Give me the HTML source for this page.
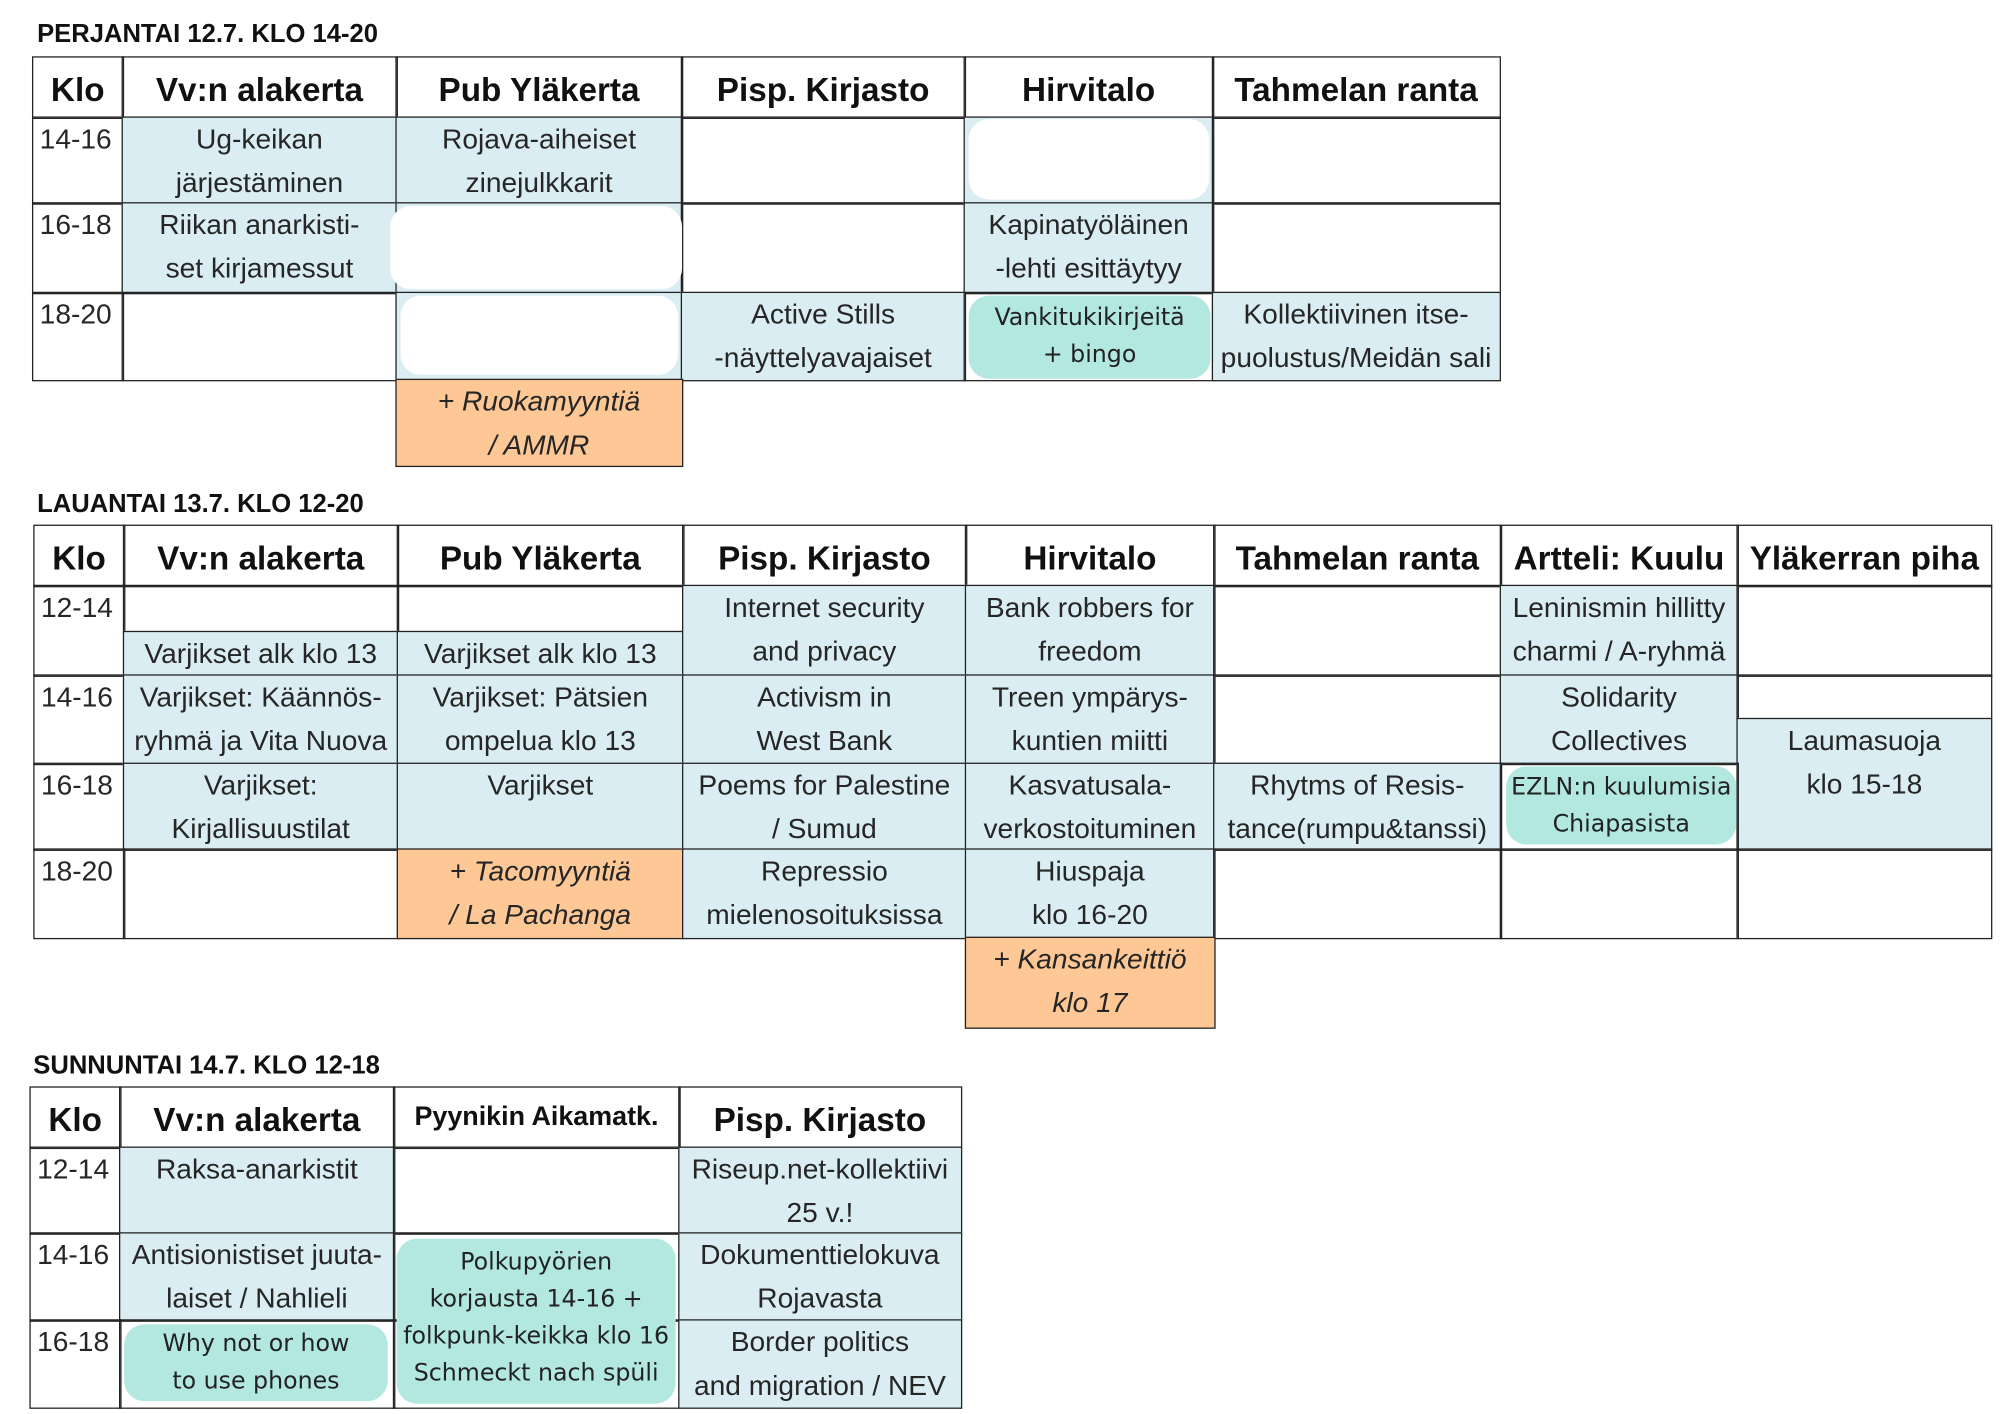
<!DOCTYPE html>
<html><head><meta charset="utf-8">
<style>
html,body{margin:0;padding:0;background:#fff;}
body{width:2000px;height:1414px;overflow:hidden;position:relative;}
#w{position:absolute;left:0;top:0;width:1563px;height:1105px;transform:scale(1.27959);transform-origin:0 0;font-family:"Liberation Sans",Arial,sans-serif;color:#262626;}
.c{position:absolute;box-sizing:border-box;border:1.5px solid #222;text-align:center;font-size:22px;line-height:34px;white-space:nowrap;overflow:visible;}
.b{background:#daedf3;}
.o{background:#fdc896;font-style:italic;}
.h{font-weight:bold;font-size:26px;line-height:50px;color:#111;}
.k{text-align:left;padding-left:5px;}
.t{position:absolute;font-weight:bold;font-size:20px;color:#111;}
.bl{position:absolute;border-radius:16px;text-align:center;white-space:nowrap;}
.wb{background:#fff;}
.tl{background:#b2e8e0;font-family:"DejaVu Sans",sans-serif;font-size:18.5px;color:#222;}
</style></head><body><div id="w">

<!-- FRIDAY -->
<div class="t" style="left:29px;top:16px">PERJANTAI 12.7. KLO 14-20</div>
<div class="c h" style="left:25px;top:44px;width:71.5px;height:48.5px">Klo</div>
<div class="c h" style="left:95px;top:44px;width:215.5px;height:48.5px">Vv:n alakerta</div>
<div class="c h" style="left:309px;top:44px;width:224.5px;height:48.5px">Pub Yläkerta</div>
<div class="c h" style="left:532px;top:44px;width:222.5px;height:48.5px">Pisp. Kirjasto</div>
<div class="c h" style="left:753px;top:44px;width:195.5px;height:48.5px">Hirvitalo</div>
<div class="c h" style="left:947px;top:44px;width:225.5px;height:48.5px">Tahmelan ranta</div>

<div class="c k" style="left:25px;top:91px;width:71.5px;height:68.5px">14-16</div>
<div class="c b" style="left:95px;top:91px;width:215.5px;height:68.5px">Ug-keikan<br>järjestäminen</div>
<div class="c b" style="left:309px;top:91px;width:224.5px;height:68.5px">Rojava-aiheiset<br>zinejulkkarit</div>
<div class="c" style="left:532px;top:91px;width:222.5px;height:68.5px"></div>
<div class="c b" style="left:753px;top:91px;width:195.5px;height:68.5px"></div>
<div class="c" style="left:947px;top:91px;width:225.5px;height:68.5px"></div>

<div class="c k" style="left:25px;top:158px;width:71.5px;height:71.5px">16-18</div>
<div class="c b" style="left:95px;top:158px;width:215.5px;height:71.5px">Riikan anarkisti-<br>set kirjamessut</div>
<div class="c b" style="left:309px;top:158px;width:224.5px;height:71.5px"></div>
<div class="c" style="left:532px;top:158px;width:222.5px;height:71.5px"></div>
<div class="c b" style="left:753px;top:158px;width:195.5px;height:71.5px">Kapinatyöläinen<br>-lehti esittäytyy</div>
<div class="c" style="left:947px;top:158px;width:225.5px;height:71.5px"></div>

<div class="c k" style="left:25px;top:228px;width:71.5px;height:69.5px">18-20</div>
<div class="c" style="left:95px;top:228px;width:215.5px;height:69.5px"></div>
<div class="c b" style="left:309px;top:228px;width:224.5px;height:69.5px"></div>
<div class="c b" style="left:532px;top:228px;width:222.5px;height:69.5px">Active Stills<br>-näyttelyavajaiset</div>
<div class="c" style="left:753px;top:228px;width:195.5px;height:69.5px"></div>
<div class="c b" style="left:947px;top:228px;width:225.5px;height:69.5px">Kollektiivinen itse-<br>puolustus/Meidän sali</div>
<div class="c o" style="left:309px;top:296px;width:224.5px;height:68.5px">+ Ruokamyyntiä<br>/ AMMR</div>

<div class="bl wb" style="left:757px;top:93px;width:188px;height:63px"></div>
<div class="bl wb" style="left:305px;top:161px;width:228px;height:65px"></div>
<div class="bl wb" style="left:313px;top:231px;width:217px;height:62px"></div>
<div class="bl tl" style="left:757px;top:231px;width:189px;height:65px;line-height:29px;padding-top:3px;box-sizing:border-box">Vankitukikirjeitä<br>+ bingo</div>

<!-- SATURDAY -->
<div class="t" style="left:29px;top:383px">LAUANTAI 13.7. KLO 12-20</div>
<div class="c h" style="left:26px;top:410px;width:71.5px;height:48.5px">Klo</div>
<div class="c h" style="left:96px;top:410px;width:215.5px;height:48.5px">Vv:n alakerta</div>
<div class="c h" style="left:310px;top:410px;width:224.5px;height:48.5px">Pub Yläkerta</div>
<div class="c h" style="left:533px;top:410px;width:222.5px;height:48.5px">Pisp. Kirjasto</div>
<div class="c h" style="left:754px;top:410px;width:195.5px;height:48.5px">Hirvitalo</div>
<div class="c h" style="left:948px;top:410px;width:225.5px;height:48.5px">Tahmelan ranta</div>
<div class="c h" style="left:1172px;top:410px;width:186.5px;height:48.5px">Artteli: Kuulu</div>
<div class="c h" style="left:1357px;top:410px;width:200px;height:48.5px">Yläkerran piha</div>

<div class="c k" style="left:26px;top:457px;width:71.5px;height:71.5px">12-14</div>
<div class="c" style="left:96px;top:457px;width:215.5px;height:37.5px"></div>
<div class="c b" style="left:96px;top:493px;width:215.5px;height:35.5px;line-height:34px">Varjikset alk klo 13</div>
<div class="c" style="left:310px;top:457px;width:224.5px;height:37.5px"></div>
<div class="c b" style="left:310px;top:493px;width:224.5px;height:35.5px;line-height:34px">Varjikset alk klo 13</div>
<div class="c b" style="left:533px;top:457px;width:222.5px;height:71.5px">Internet security<br>and privacy</div>
<div class="c b" style="left:754px;top:457px;width:195.5px;height:71.5px">Bank robbers for<br>freedom</div>
<div class="c" style="left:948px;top:457px;width:225.5px;height:71.5px"></div>
<div class="c b" style="left:1172px;top:457px;width:186.5px;height:71.5px">Leninismin hillitty<br>charmi / A-ryhmä</div>
<div class="c" style="left:1357px;top:457px;width:200px;height:71.5px"></div>

<div class="c k" style="left:26px;top:527px;width:71.5px;height:70.5px">14-16</div>
<div class="c b" style="left:96px;top:527px;width:215.5px;height:70.5px">Varjikset: Käännös-<br>ryhmä ja Vita Nuova</div>
<div class="c b" style="left:310px;top:527px;width:224.5px;height:70.5px">Varjikset: Pätsien<br>ompelua klo 13</div>
<div class="c b" style="left:533px;top:527px;width:222.5px;height:70.5px">Activism in<br>West Bank</div>
<div class="c b" style="left:754px;top:527px;width:195.5px;height:70.5px">Treen ympärys-<br>kuntien miitti</div>
<div class="c" style="left:948px;top:527px;width:225.5px;height:70.5px"></div>
<div class="c b" style="left:1172px;top:527px;width:186.5px;height:70.5px">Solidarity<br>Collectives</div>
<div class="c" style="left:1357px;top:527px;width:200px;height:35.5px"></div>
<div class="c b" style="left:1357px;top:561px;width:200px;height:103.5px">Laumasuoja<br>klo 15-18</div>

<div class="c k" style="left:26px;top:596px;width:71.5px;height:68.5px">16-18</div>
<div class="c b" style="left:96px;top:596px;width:215.5px;height:68.5px">Varjikset:<br>Kirjallisuustilat</div>
<div class="c b" style="left:310px;top:596px;width:224.5px;height:68.5px">Varjikset</div>
<div class="c b" style="left:533px;top:596px;width:222.5px;height:68.5px">Poems for Palestine<br>/ Sumud</div>
<div class="c b" style="left:754px;top:596px;width:195.5px;height:68.5px">Kasvatusala-<br>verkostoituminen</div>
<div class="c b" style="left:948px;top:596px;width:225.5px;height:68.5px">Rhytms of Resis-<br>tance(rumpu&amp;tanssi)</div>
<div class="c" style="left:1172px;top:596px;width:186.5px;height:68.5px"></div>

<div class="c k" style="left:26px;top:663px;width:71.5px;height:70.5px">18-20</div>
<div class="c" style="left:96px;top:663px;width:215.5px;height:70.5px"></div>
<div class="c o" style="left:310px;top:663px;width:224.5px;height:70.5px">+ Tacomyyntiä<br>/ La Pachanga</div>
<div class="c b" style="left:533px;top:663px;width:222.5px;height:70.5px">Repressio<br>mielenosoituksissa</div>
<div class="c b" style="left:754px;top:663px;width:195.5px;height:70.5px">Hiuspaja<br>klo 16-20</div>
<div class="c" style="left:948px;top:663px;width:225.5px;height:70.5px"></div>
<div class="c" style="left:1172px;top:663px;width:186.5px;height:70.5px"></div>
<div class="c" style="left:1357px;top:663px;width:200px;height:70.5px"></div>
<div class="c o" style="left:754px;top:732px;width:195.5px;height:71.5px">+ Kansankeittiö<br>klo 17</div>

<div class="bl tl" style="left:1177px;top:599px;width:180px;height:61px;line-height:29px;padding-top:2px;box-sizing:border-box">EZLN:n kuulumisia<br>Chiapasista</div>

<!-- SUNDAY -->
<div class="t" style="left:26px;top:822px">SUNNUNTAI 14.7. KLO 12-18</div>
<div class="c h" style="left:23px;top:849px;width:71.5px;height:48.5px">Klo</div>
<div class="c h" style="left:93px;top:849px;width:215.5px;height:48.5px">Vv:n alakerta</div>
<div class="c h" style="left:307px;top:849px;width:224.5px;height:48.5px;font-size:21px;line-height:46px">Pyynikin Aikamatk.</div>
<div class="c h" style="left:530px;top:849px;width:221.5px;height:48.5px">Pisp. Kirjasto</div>

<div class="c k" style="left:23px;top:896px;width:71.5px;height:68.5px">12-14</div>
<div class="c b" style="left:93px;top:896px;width:215.5px;height:68.5px">Raksa-anarkistit</div>
<div class="c" style="left:307px;top:896px;width:224.5px;height:68.5px"></div>
<div class="c b" style="left:530px;top:896px;width:221.5px;height:68.5px">Riseup.net-kollektiivi<br>25 v.!</div>

<div class="c k" style="left:23px;top:963px;width:71.5px;height:69.5px">14-16</div>
<div class="c b" style="left:93px;top:963px;width:215.5px;height:69.5px">Antisionistiset juuta-<br>laiset / Nahlieli</div>
<div class="c" style="left:307px;top:963px;width:224.5px;height:69.5px"></div>
<div class="c b" style="left:530px;top:963px;width:221.5px;height:69.5px">Dokumenttielokuva<br>Rojavasta</div>

<div class="c k" style="left:23px;top:1031px;width:71.5px;height:69.5px">16-18</div>
<div class="c" style="left:93px;top:1031px;width:215.5px;height:69.5px"></div>
<div class="c" style="left:307px;top:1031px;width:224.5px;height:69.5px"></div>
<div class="c b" style="left:530px;top:1031px;width:221.5px;height:69.5px">Border politics<br>and migration / NEV</div>

<div class="bl tl" style="left:310px;top:968px;width:218px;height:129px;line-height:29px;padding-top:4px;box-sizing:border-box">Polkupyörien<br>korjausta 14-16 +<br>folkpunk-keikka klo 16<br>Schmeckt nach spüli</div>
<div class="bl tl" style="left:97px;top:1035px;width:206px;height:60px;line-height:29px;padding-top:1px;box-sizing:border-box">Why not or how<br>to use phones</div>

</div></body></html>
